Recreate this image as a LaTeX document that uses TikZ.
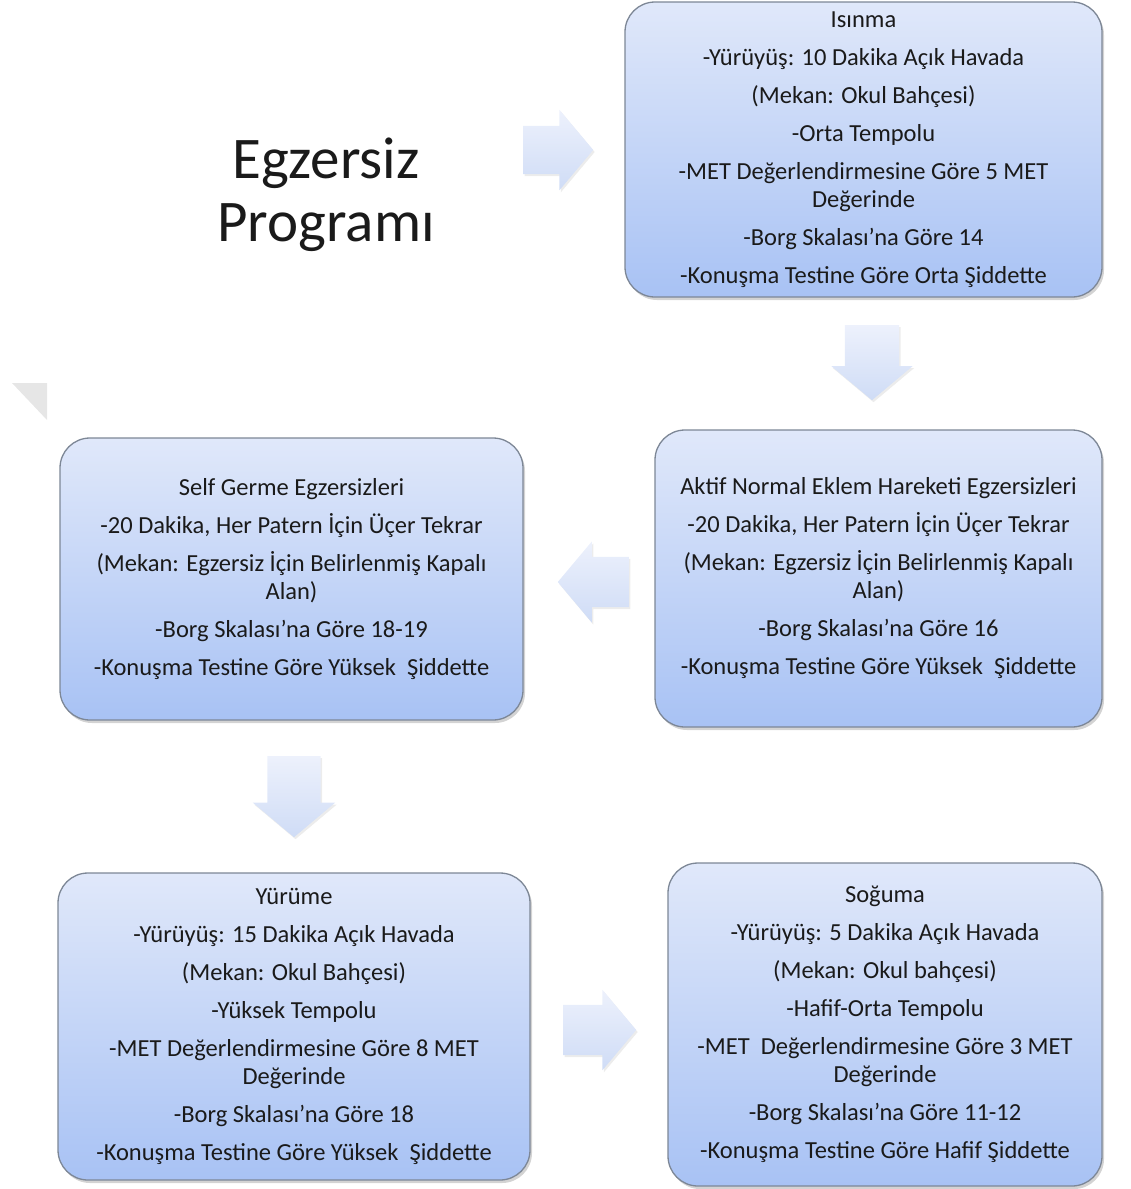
\documentclass[tikz,border=0pt]{standalone}
\usepackage{fontspec}
\setmainfont{Carlito}
\usetikzlibrary{shapes.arrows, shadows}
\definecolor{boxtop}{HTML}{E0E8FA}
\definecolor{boxbot}{HTML}{A8C2F4}
\definecolor{boxline}{HTML}{7D8796}
\definecolor{arrtop}{HTML}{EDF1FC}
\definecolor{arrbot}{HTML}{CFDCF6}
\definecolor{maintext}{HTML}{1A1A1A}
\definecolor{cornergray}{HTML}{E6E6E6}
\tikzset{
  stagebox/.style={draw=boxline, line width=1.3pt, rounded corners=30pt,
    top color=boxtop, bottom color=boxbot, align=center, text=maintext,
    font=\fontsize{24.5}{28}\selectfont, inner sep=0pt,
    drop shadow={shadow xshift=2pt, shadow yshift=-3pt, opacity=0.35}},
  flowarrow/.style={single arrow, draw=none, anchor=tail,
    inner xsep=0pt, inner ysep=#1,
    top color=arrtop, bottom color=arrbot, single arrow tip angle=100,
    drop shadow={shadow xshift=1.5pt, shadow yshift=-2pt, opacity=0.15}},
  headext/.style={single arrow head extend=#1}
}
\newcommand{\itemgap}{\\[10pt]}

\begin{document}
\begin{tikzpicture}[x=1pt, y=-1pt]
  \useasboundingbox (0,0) rectangle (1131,1189);

  % corner mark
  \fill[cornergray] (12,383) -- (47,383) -- (47,420) -- cycle;

  % title
  \node[font=\fontsize{59}{63}\selectfont, align=center, text=maintext] (title) at (326,195)
    {Egzersiz\\Programı};

  % stages
  \node[stagebox, minimum width=477pt, minimum height=295pt] (isinma) at (863.5,149.5)
    {Isınma\itemgap
     -Yürüyüş: 10 Dakika Açık Havada\itemgap
     (Mekan: Okul Bahçesi)\itemgap
     -Orta Tempolu\itemgap
     -MET Değerlendirmesine Göre 5 MET\\Değerinde\itemgap
     -Borg Skalası'na Göre 14\itemgap
     -Konuşma Testine Göre Orta Şiddette};

  \node[stagebox, minimum width=447pt, minimum height=297pt] (aktif) at (878.5,578.5)
    {Aktif Normal Eklem Hareketi Egzersizleri\itemgap
     -20 Dakika, Her Patern İçin Üçer Tekrar\itemgap
     (Mekan: Egzersiz İçin Belirlenmiş Kapalı\\Alan)\itemgap
     -Borg Skalası’na Göre 16\itemgap
     -Konuşma Testine Göre Yüksek~ Şiddette};

  \node[stagebox, minimum width=463pt, minimum height=282pt] (germe) at (291.5,579)
    {Self Germe Egzersizleri\itemgap
     -20 Dakika, Her Patern İçin Üçer Tekrar\itemgap
     (Mekan: Egzersiz İçin Belirlenmiş Kapalı\\Alan)\itemgap
     -Borg Skalası’na Göre 18-19\itemgap
     -Konuşma Testine Göre Yüksek~ Şiddette};

  \node[stagebox, minimum width=472pt, minimum height=307pt] (yurume) at (294,1026.5)
    {Yürüme\itemgap
     -Yürüyüş: 15 Dakika Açık Havada\itemgap
     (Mekan: Okul Bahçesi)\itemgap
     -Yüksek Tempolu\itemgap
     -MET Değerlendirmesine Göre 8 MET\\Değerinde\itemgap
     -Borg Skalası’na Göre 18\itemgap
     -Konuşma Testine Göre Yüksek~ Şiddette};

  \node[stagebox, minimum width=434pt, minimum height=323pt] (soguma) at (885,1024.5)
    {Soğuma\itemgap
     -Yürüyüş: 5 Dakika Açık Havada\itemgap
     (Mekan: Okul bahçesi)\itemgap
     -Hafif-Orta Tempolu\itemgap
     -MET~ Değerlendirmesine Göre 3 MET\\Değerinde\itemgap
     -Borg Skalası’na Göre 11-12\itemgap
     -Konuşma Testine Göre Hafif Şiddette};

  % block arrows
  \node[flowarrow=24pt, headext=16pt, minimum height=70pt] (a1) at (523,150) {};
  \node[flowarrow=27pt, headext=13.5pt, minimum height=75pt, rotate=-90] (a2) at (872,325) {};
  \node[flowarrow=25pt, headext=15.5pt, minimum height=71pt, rotate=180] (a3) at (629,582) {};
  \node[flowarrow=26.5pt, headext=14.5pt, minimum height=81pt, rotate=-90] (a4) at (294,756) {};
  \node[flowarrow=25pt, headext=15pt, minimum height=73pt] (a5) at (563,1030) {};
\end{tikzpicture}
\end{document}
